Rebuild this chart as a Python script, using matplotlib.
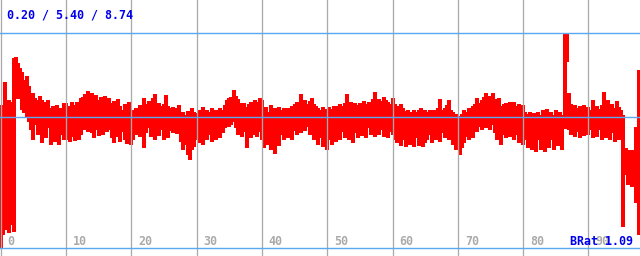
import numpy as np
import matplotlib
matplotlib.use("Agg")
import matplotlib.pyplot as plt
import matplotlib.transforms as mtransforms

# ---- data: per-sample high / low bitrate (10 segments of 30 samples, step 1/3 unit)
step = 1.0 / 3.0
hi = [
    # 0-10
    5.88, 5.80, 6.80, 5.96, 6.08, 6.00, 7.75, 7.80, 7.55, 7.35, 7.20, 6.87, 7.05, 6.65, 6.25,
    6.36, 6.14, 6.08, 6.25, 6.08, 6.00, 5.88, 6.08, 5.76, 5.84, 5.68, 5.88, 5.68, 5.76, 5.96,
    # 10-20
    5.96, 5.84, 5.76, 6.00, 5.88, 6.00, 5.80, 6.14, 6.20, 6.30, 6.44, 6.22, 6.36, 6.14, 6.28,
    6.08, 6.20, 6.10, 6.25, 6.05, 6.15, 5.95, 6.05, 5.90, 6.10, 5.85, 5.70, 5.90, 5.75, 6.00,
    # 20-30
    5.60, 5.68, 5.76, 5.76, 5.88, 5.72, 6.16, 5.92, 6.04, 5.96, 6.16, 6.32, 5.92, 5.96, 5.84,
    5.92, 6.28, 5.84, 5.76, 5.80, 5.68, 5.76, 5.88, 5.56, 5.60, 5.48, 5.64, 5.56, 5.76, 5.60,
    # 30-40
    5.56, 5.68, 5.56, 5.80, 5.60, 5.68, 5.60, 5.76, 5.64, 5.68, 5.60, 5.76, 5.68, 5.88, 6.08,
    6.16, 6.20, 6.48, 6.24, 6.12, 5.96, 5.92, 5.96, 5.80, 5.92, 6.00, 5.96, 6.08, 6.00, 6.16,
    # 40-50
    6.08, 5.68, 5.80, 5.60, 5.88, 5.68, 5.76, 5.60, 5.80, 5.68, 5.76, 5.60, 5.76, 5.68, 5.84,
    5.92, 6.00, 5.96, 6.32, 5.96, 6.08, 5.92, 6.04, 6.16, 5.92, 5.84, 5.76, 5.68, 5.80, 5.72,
    # 50-60
    5.68, 5.80, 5.72, 5.84, 5.76, 5.84, 5.92, 5.84, 5.96, 6.32, 5.92, 6.00, 5.92, 5.96, 5.88,
    5.96, 5.92, 6.04, 5.92, 6.00, 5.96, 6.12, 6.40, 6.04, 6.12, 6.04, 6.20, 6.08, 6.00, 5.92,
    # 60-70
    6.16, 5.92, 5.84, 5.68, 5.92, 5.76, 5.64, 5.68, 5.56, 5.60, 5.68, 5.60, 5.68, 5.76, 5.64,
    5.68, 5.60, 5.68, 5.56, 5.68, 5.52, 5.76, 6.12, 5.68, 5.76, 5.88, 6.08, 5.68, 5.60, 5.52,
    # 70-80
    5.44, 5.40, 5.52, 5.68, 5.60, 5.76, 5.68, 5.84, 5.92, 6.16, 5.96, 6.08, 6.20, 6.36, 6.16,
    6.24, 6.36, 6.12, 5.92, 6.16, 5.84, 5.92, 5.96, 5.84, 6.00, 5.88, 6.00, 5.84, 5.92, 5.76,
    # 80-90
    5.88, 5.60, 5.52, 5.60, 5.48, 5.56, 5.44, 5.60, 5.48, 5.68, 5.56, 5.72, 5.52, 5.60, 5.48,
    5.68, 5.52, 5.60, 5.48, 8.74, 8.74, 6.36, 5.92, 5.80, 5.88, 5.76, 5.84, 5.72, 5.88, 5.76,
    # 90-98
    5.80, 5.68, 6.08, 5.76, 5.84, 5.72, 5.88, 6.40, 5.84, 6.08, 5.80, 5.92, 5.76, 6.04, 5.80,
    5.68, 5.48, 4.17, 4.01, 4.09, 3.97, 4.09, 5.01, 7.27,
]
lo = [
    # 0-10
    0.20, 0.70, 0.90, 1.00, 0.80, 1.10, 0.85, 6.40, 6.10, 6.30, 5.68, 5.56, 5.36, 5.21, 4.89,
    4.49, 5.09, 4.69, 4.97, 4.37, 4.89, 4.57, 4.97, 4.29, 4.69, 4.41, 4.89, 4.29, 4.69, 4.49,
    # 10-20
    4.49, 4.77, 4.40, 4.60, 4.45, 4.85, 4.50, 4.69, 5.00, 4.89, 4.80, 5.05, 4.75, 4.57, 4.89,
    4.65, 4.95, 4.70, 5.00, 4.80, 4.90, 4.55, 4.37, 4.75, 4.60, 4.40, 4.80, 4.50, 4.35, 4.65,
    # 20-30
    4.29, 4.49, 4.69, 4.77, 4.61, 4.81, 4.17, 4.77, 4.97, 4.61, 4.89, 4.49, 4.81, 4.65, 4.89,
    4.49, 4.77, 4.57, 4.85, 4.77, 4.89, 4.73, 4.81, 4.41, 4.09, 4.29, 3.89, 3.70, 4.09, 4.21,
    # 30-40
    4.49, 4.37, 4.61, 4.29, 4.57, 4.49, 4.69, 4.41, 4.61, 4.49, 4.77, 4.57, 4.77, 4.97, 5.13,
    5.01, 5.09, 5.21, 4.97, 4.69, 4.89, 4.61, 4.81, 4.17, 4.77, 4.57, 4.69, 4.97, 4.61, 4.81,
    # 40-50
    4.49, 4.17, 4.57, 4.29, 4.09, 4.41, 3.93, 4.57, 4.25, 4.69, 4.49, 4.73, 4.57, 4.81, 4.49,
    4.85, 4.69, 4.97, 4.77, 4.97, 4.85, 5.01, 4.69, 4.89, 4.49, 4.61, 4.29, 4.57, 4.21, 4.41,
    # 50-60
    4.09, 4.49, 4.29, 4.69, 4.41, 4.65, 4.49, 4.81, 4.57, 4.77, 4.49, 4.69, 4.37, 4.77, 4.57,
    4.89, 4.65, 4.81, 4.57, 4.97, 4.69, 4.85, 4.61, 4.97, 4.69, 4.89, 4.61, 4.77, 4.57, 4.81,
    # 60-70
    4.69, 4.49, 4.37, 4.57, 4.25, 4.49, 4.21, 4.41, 4.29, 4.49, 4.21, 4.57, 4.25, 4.45, 4.21,
    4.37, 4.49, 4.69, 4.37, 4.57, 4.49, 4.65, 4.41, 4.77, 4.57, 4.81, 4.49, 4.57, 4.29, 4.09,
    # 70-80
    4.29, 3.89, 4.17, 4.37, 4.61, 4.49, 4.69, 4.57, 4.89, 4.81, 5.01, 4.89, 5.09, 4.97, 5.21,
    4.89, 5.09, 4.77, 4.49, 4.81, 4.29, 4.69, 4.57, 4.89, 4.61, 4.77, 4.49, 4.69, 4.37, 4.57,
    # 80-90
    4.29, 4.49, 4.17, 4.41, 4.09, 4.37, 4.01, 4.49, 4.09, 4.29, 4.01, 4.41, 4.17, 4.49, 4.09,
    4.61, 4.25, 4.49, 4.09, 4.93, 7.59, 4.89, 4.69, 4.97, 4.61, 4.81, 4.57, 4.89, 4.65, 4.77,
    # 90-98
    4.69, 4.89, 4.57, 4.81, 4.61, 4.89, 4.49, 4.77, 4.57, 4.89, 4.49, 4.77, 4.41, 4.69, 4.49,
    4.61, 1.03, 3.10, 2.70, 3.22, 2.62, 2.86, 1.99, 0.72,
]
stat_min, stat_avg, stat_max = 0.20, 5.40, 8.74
brat = 1.09
x_ticks = [0, 10, 20, 30, 40, 50, 60, 70, 80, 90]
x_tick_labels = ["0", "10", "20", "30", "40", "50", "60", "70", "80", "90"]

# ---- figure
W, H, DPI = 640, 256, 100
fig = plt.figure(figsize=(W / DPI, H / DPI), dpi=DPI, facecolor="white")
ax = fig.add_axes([0, 0, 1, 1])
ax.set_axis_off()

px_per_x = 6.533
px_per_y = 215.0 / (stat_max - stat_min)
x0 = -0.08
ax.set_xlim(x0, x0 + W / px_per_x)
ax.set_ylim(stat_min - 8 / px_per_y, stat_min + 248 / px_per_y)

xs = np.arange(len(hi)) * step
ax.vlines(xs, lo, hi, colors="#ff0000", linewidth=2.2 * 72 / DPI, antialiased=False, zorder=2)

grey = "#aaaaaa"
blue_line = "#5aa8f0"
for t in x_ticks:
    ax.axvline(t, color=grey, linewidth=1.3 * 72 / DPI, zorder=3)
for v in (stat_min, stat_avg, stat_max):
    ax.axhline(v, color=blue_line, linewidth=1.4 * 72 / DPI, zorder=4)

mono = {"family": "DejaVu Sans Mono", "weight": "bold"}
lab_tr = mtransforms.offset_copy(
    mtransforms.blended_transform_factory(ax.transData, fig.transFigure),
    fig=fig, x=7, y=11, units="dots")
for t, lab in zip(x_ticks, x_tick_labels):
    ax.text(t, 0, lab, transform=lab_tr, color=grey, fontsize=8.4,
            ha="left", va="baseline", zorder=5, **mono)

ax.text(7 / W, (H - 19) / H, f"{stat_min:.2f} / {stat_avg:.2f} / {stat_max:.2f}",
        transform=fig.transFigure, color="#0000ee", fontsize=8.4, ha="left", va="baseline", zorder=6, **mono)
ax.text(633 / W, 11 / H, f"BRat {brat:.2f}", transform=fig.transFigure, color="#0000ee",
        fontsize=8.4, ha="right", va="baseline", zorder=6, **mono)

fig.savefig("out.png", dpi=DPI, facecolor="white")
